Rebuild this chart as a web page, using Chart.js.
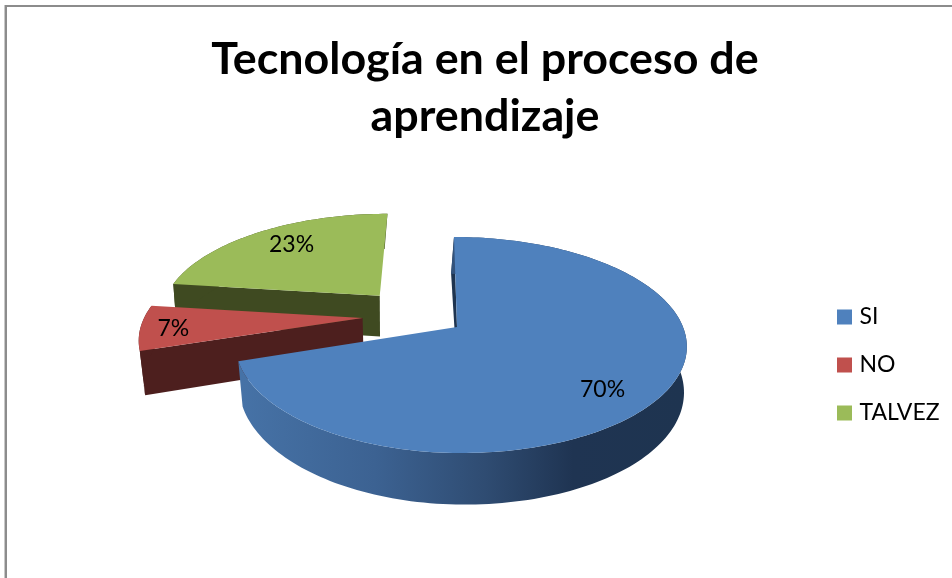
<!DOCTYPE html>
<html>
<head>
<meta charset="utf-8">
<script src="https://cdn.jsdelivr.net/npm/chart.js@4"></script>
<style>html,body{margin:0;padding:0;background:#fff}canvas{display:block}</style>
</head>
<body>
<canvas id="c" width="952" height="578"></canvas>
<script>
const titleLines = ['Tecnología en el proceso de', 'aprendizaje'];
const categories = ['SI', 'NO', 'TALVEZ'];
const percentages = [70, 7, 23];
const sliceColors = ['#4f81bd', '#c0504d', '#9bbb59'];
const wallColors = ['#1e3450', '#4d1f1e', '#3f4a21'];

// 3D view of the pie: the angles come from Chart.js arc elements.
const VIEW = {ax: 457, ay: 327, R: 226, K: 105, D: 6, cam: 21, depth: 43, explode: 0.235};
const sliceShift = [[0, 0], [0, 3], [-2, 0]];
const leftSqueeze = [0.97, 0.99, 0.995];
const labelSpot = [[7, 0.79], [-1.5, 0.84], [2.4, 0.75]];
const drawOrder = [2, 1, 0];

function project(wx, wy, i, squeeze) {
  const bx = Math.cos(Math.PI * 36 / 180) * VIEW.explode;
  const by = Math.sin(Math.PI * 36 / 180) * VIEW.explode;
  let dx = wx - bx;
  const dy = wy - by;
  if (squeeze && dx < 0) dx *= leftSqueeze[i];
  const s = VIEW.D / (VIEW.D - dy);
  return {
    x: VIEW.ax + (VIEW.R * dx + VIEW.cam) * s - VIEW.cam + sliceShift[i][0],
    y: VIEW.ay + VIEW.K * dy * s + sliceShift[i][1],
    s, dy
  };
}
function lower(p) {
  return {x: p.x - 0.015 * (p.x - 460) + 3 * p.dy, y: p.y + VIEW.depth * p.s};
}
function path(ctx, pts, fill) {
  ctx.beginPath();
  pts.forEach((p, i) => i ? ctx.lineTo(p.x, p.y) : ctx.moveTo(p.x, p.y));
  ctx.closePath();
  ctx.fillStyle = fill;
  ctx.fill();
}

const pie3d = {
  id: 'pie3d',
  beforeDraw(chart) {
    const ctx = chart.ctx;
    ctx.save();
    ctx.fillStyle = '#fff';
    ctx.fillRect(0, 0, 952, 578);
    ctx.fillStyle = '#c8c8c8';
    ctx.fillRect(4, 5, 1, 573);
    ctx.fillStyle = '#8c8c8c';
    ctx.fillRect(5, 5, 947, 2);
    ctx.fillRect(5, 5, 2, 573);
    ctx.restore();
    const lg = chart.legend;
    const w = lg.width, h = lg.height;
    lg.left = 816; lg.right = lg.left + w;
    lg.top = 365 - h / 2; lg.bottom = lg.top + h;
  },
  beforeDatasetsDraw(chart) {
    const ctx = chart.ctx;
    const arcs = chart.getDatasetMeta(0).data;
    ctx.save();
    drawOrder.forEach(i => {
      const a = arcs[i];
      const start = a.startAngle, end = a.endAngle, mid = (start + end) / 2;
      const cx = Math.cos(mid) * VIEW.explode, cy = Math.sin(mid) * VIEW.explode;
      const rim = [];
      const n = Math.max(8, Math.round((end - start) * 40));
      for (let k = 0; k <= n; k++) {
        const t = start + (end - start) * k / n;
        rim.push(project(cx + Math.cos(t), cy + Math.sin(t), i, true));
      }
      const apex = project(cx, cy, i, false);
      const wall = wallColors[i];
      path(ctx, [rim[0], apex, lower(apex), lower(rim[0])], wall);
      let sideFill = wall;
      if (i === 0) {
        const g = ctx.createLinearGradient(243, 0, 683, 0);
        g.addColorStop(0, '#4672a6');
        g.addColorStop(0.3, '#3c6292');
        g.addColorStop(0.55, '#2f4c72');
        g.addColorStop(0.75, '#1f3452');
        g.addColorStop(1, '#1e3450');
        sideFill = g;
      }
      path(ctx, rim.concat(rim.map(lower).reverse()), sideFill);
      path(ctx, [apex].concat(rim), sliceColors[i]);
    });
    ctx.fillStyle = '#000';
    ctx.font = '23px Lato';
    ctx.textAlign = 'center';
    ctx.textBaseline = 'middle';
    arcs.forEach((a, i) => {
      const mid = (a.startAngle + a.endAngle) / 2;
      const cx = Math.cos(mid) * VIEW.explode, cy = Math.sin(mid) * VIEW.explode;
      const t = mid + labelSpot[i][0] * Math.PI / 180, r = labelSpot[i][1];
      const p = project(cx + Math.cos(t) * r, cy + Math.sin(t) * r, i, false);
      ctx.fillText(percentages[i] + '%', p.x, p.y);
    });
    ctx.restore();
    return false;
  }
};

new Chart(document.getElementById('c'), {
  type: 'pie',
  data: {
    labels: categories,
    datasets: [{data: percentages, backgroundColor: sliceColors, borderWidth: 0, offset: 30}]
  },
  plugins: [pie3d],
  options: {
    responsive: false,
    animation: false,
    layout: {padding: {left: 18, top: 0}},
    plugins: {
      tooltip: {enabled: false},
      title: {
        display: true,
        text: titleLines,
        color: '#000',
        font: {family: 'Lato', size: 44.8, weight: 'bold', lineHeight: 1.272},
        padding: {top: 31, bottom: 20}
      },
      legend: {
        position: 'right',
        labels: {
          boxWidth: 7,
          boxHeight: 7,
          padding: 25,
          color: '#000',
          font: {family: 'Lato', size: 23},
          generateLabels(chart) {
            return categories.map((text, i) => ({
              text,
              fillStyle: sliceColors[i],
              strokeStyle: sliceColors[i],
              lineWidth: 8,
              fontColor: '#000',
              hidden: false,
              index: i
            }));
          }
        }
      }
    }
  }
});
</script>
</body>
</html>
